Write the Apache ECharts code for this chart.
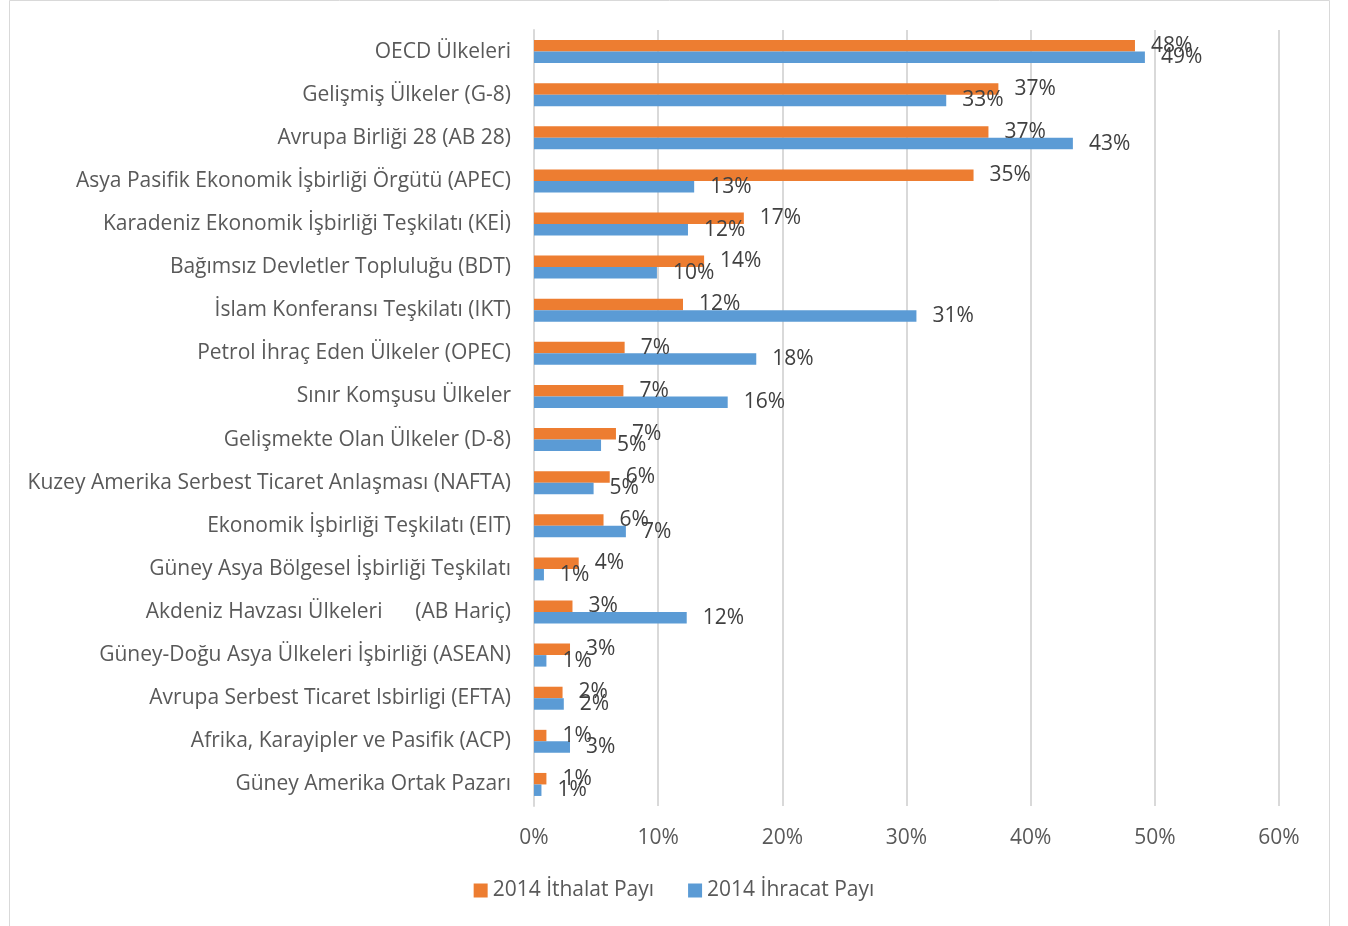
<!DOCTYPE html>
<html><head><meta charset="utf-8">
<script src="https://cdn.jsdelivr.net/npm/echarts@6/dist/echarts.min.js"></script>
<style>html,body{margin:0;padding:0;background:#fff}#c{width:1348px;height:926px}</style>
</head><body><div id="c"></div>
<script>
const categories = [
  "OECD Ülkeleri",
  "Gelişmiş Ülkeler (G-8)",
  "Avrupa Birliği 28 (AB 28)",
  "Asya Pasifik Ekonomik İşbirliği Örgütü (APEC)",
  "Karadeniz Ekonomik İşbirliği Teşkilatı (KEİ)",
  "Bağımsız Devletler Topluluğu (BDT)",
  "İslam Konferansı Teşkilatı (IKT)",
  "Petrol İhraç Eden Ülkeler (OPEC)",
  "Sınır Komşusu Ülkeler",
  "Gelişmekte Olan Ülkeler (D-8)",
  "Kuzey Amerika Serbest Ticaret Anlaşması (NAFTA)",
  "Ekonomik İşbirliği Teşkilatı (EIT)",
  "Güney Asya Bölgesel İşbirliği Teşkilatı",
  "Akdeniz Havzası Ülkeleri      (AB Hariç)",
  "Güney-Doğu Asya Ülkeleri İşbirliği (ASEAN)",
  "Avrupa Serbest Ticaret Isbirligi (EFTA)",
  "Afrika, Karayipler ve Pasifik (ACP)",
  "Güney Amerika Ortak Pazarı"
];
const importShare = [48.4, 37.4, 36.6, 35.4, 16.9, 13.7, 12.0, 7.3, 7.2, 6.6, 6.1, 5.6, 3.6, 3.1, 2.9, 2.3, 1.0, 1.0];
const exportShare = [49.2, 33.2, 43.4, 12.9, 12.4, 9.9, 30.8, 17.9, 15.6, 5.4, 4.8, 7.4, 0.8, 12.3, 1.0, 2.4, 2.9, 0.6];
const seriesNames = ["2014 İthalat Payı", "2014 İhracat Payı"];
const xTicks = [0, 10, 20, 30, 40, 50, 60];

const FONT = "Open Sans";
const chart = echarts.init(document.getElementById('c'), null, {renderer: 'canvas'});
const lbl = {
  show: true, position: 'right', distance: 16,
  color: '#404040', fontFamily: FONT, fontSize: 21,
  formatter: p => Math.round(p.value) + '%'
};
chart.setOption({
  animation: false,
  textStyle: {fontFamily: FONT},
  graphic: [{type: 'rect', shape: {x: 9.5, y: 0.5, width: 1320, height: 940}, style: {fill: 'none', stroke: '#d9d9d9', lineWidth: 1}, silent: true, z: -1}],
  grid: {left: 534, right: 69, top: 30, bottom: 120, containLabel: false},
  legend: {
    bottom: 20, left: 'center', itemWidth: 14, itemHeight: 14, itemGap: 34,
    icon: 'rect',
    textStyle: {fontFamily: FONT, fontSize: 21, color: '#595959'},
    data: seriesNames
  },
  xAxis: {
    type: 'value', min: xTicks[0], max: xTicks[xTicks.length - 1], interval: 10,
    axisLabel: {formatter: v => v + '%', color: '#595959', fontSize: 21, fontFamily: FONT, margin: 22},
    axisLine: {show: false}, axisTick: {show: false},
    splitLine: {show: true, lineStyle: {color: '#d9d9d9', width: 2}}
  },
  yAxis: {
    type: 'category', data: categories, inverse: true,
    axisLine: {show: true, lineStyle: {color: '#d9d9d9', width: 2}},
    axisTick: {show: false},
    axisLabel: {color: '#595959', fontSize: 21, fontFamily: FONT, margin: 23}
  },
  series: [
    {name: seriesNames[0], type: 'bar', data: importShare, barWidth: 11.5, barGap: '0%',
     itemStyle: {color: '#ed7d31'}, label: lbl},
    {name: seriesNames[1], type: 'bar', data: exportShare, barWidth: 11.5, barGap: '0%',
     itemStyle: {color: '#5b9bd5'}, label: lbl}
  ]
});
</script>
</body></html>
